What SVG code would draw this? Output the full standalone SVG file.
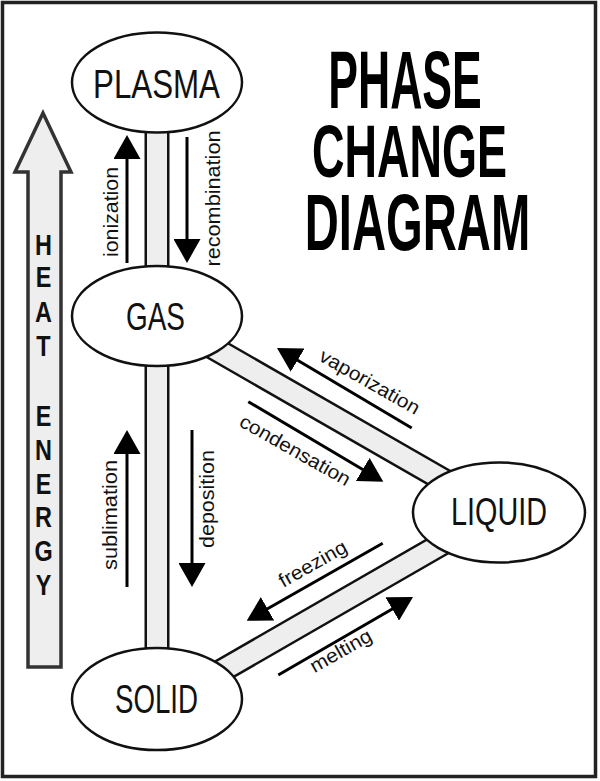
<svg xmlns="http://www.w3.org/2000/svg" width="600" height="781" viewBox="0 0 600 781">
<style>
.bar-o{stroke:#111;stroke-width:25;fill:none}
.bar-i{stroke:#eeeeee;stroke-width:20;fill:none}
.node{fill:#fff;stroke:#111;stroke-width:2.5}
.lbl{font-family:"Liberation Sans",Arial,sans-serif;font-size:40px;fill:#111;text-anchor:middle}
.arr{stroke:#000;stroke-width:3;fill:none;marker-end:url(#ah)}
.cap{font-family:"Liberation Sans",Arial,sans-serif;font-size:19.5px;fill:#111;text-anchor:middle}
.title{font-family:"Liberation Sans",Arial,sans-serif;font-weight:bold;fill:#000;text-anchor:middle}
.heat{font-family:"Liberation Sans",Arial,sans-serif;font-weight:bold;font-size:30px;fill:#111;text-anchor:middle}
</style>
<defs>
<marker id="ah" viewBox="0 0 24 27" refX="2" refY="13.5" markerWidth="24" markerHeight="27" markerUnits="userSpaceOnUse" orient="auto">
<path d="M0,0 L24,13.5 L0,27 Z" fill="#000"/>
</marker>
</defs>
<rect x="2.5" y="2.5" width="593" height="774" fill="#fff" stroke="#222" stroke-width="3.5"/>

<g id="connectors">
<line class="bar-o" x1="157" y1="82" x2="157" y2="316"/>
<line class="bar-i" x1="157" y1="82" x2="157" y2="316"/>
<line class="bar-o" x1="157" y1="316" x2="157" y2="699"/>
<line class="bar-i" x1="157" y1="316" x2="157" y2="699"/>
<line class="bar-o" x1="157" y1="315.5" x2="499" y2="512"/>
<line class="bar-i" x1="157" y1="315.5" x2="499" y2="512"/>
<line class="bar-o" x1="157" y1="708" x2="499" y2="511"/>
<line class="bar-i" x1="157" y1="708" x2="499" y2="511"/>

<path class="arr" d="M127,263 L127,157"/>
<path class="arr" d="M187,137 L187,241"/>
<path class="arr" d="M127,587 L127,452"/>
<path class="arr" d="M192,430 L192,565"/>
<path class="arr" d="M411.7,428 L295.9,359.2"/>
<path class="arr" d="M248.3,401.7 L364.4,470.5"/>
<path class="arr" d="M382.7,543.3 L265.8,609.8"/>
<path class="arr" d="M278.3,675 L394,608"/>

<text class="cap" transform="translate(118,212) rotate(-90)" textLength="90" lengthAdjust="spacingAndGlyphs">ionization</text>
<text class="cap" transform="translate(220,198.5) rotate(-90)" textLength="136" lengthAdjust="spacingAndGlyphs">recombination</text>
<text class="cap" transform="translate(117,515) rotate(-90)" textLength="110" lengthAdjust="spacingAndGlyphs">sublimation</text>
<text class="cap" transform="translate(214,499) rotate(-90)" textLength="98" lengthAdjust="spacingAndGlyphs">deposition</text>
<text class="cap" transform="translate(366.5,387.5) rotate(29.5)" textLength="112" lengthAdjust="spacingAndGlyphs">vaporization</text>
<text class="cap" transform="translate(292,456) rotate(29.5)" textLength="124" lengthAdjust="spacingAndGlyphs">condensation</text>
<text class="cap" transform="translate(316,569.5) rotate(-29.5)" textLength="75" lengthAdjust="spacingAndGlyphs">freezing</text>
<text class="cap" transform="translate(344,656.5) rotate(-29.5)" textLength="68" lengthAdjust="spacingAndGlyphs">melting</text>
</g>

<g id="plasma">
<ellipse class="node" cx="157" cy="82.5" rx="85" ry="50"/>
<text class="lbl" x="156.5" y="98" textLength="127" lengthAdjust="spacingAndGlyphs">PLASMA</text>
</g>
<g id="gas">
<ellipse class="node" cx="157" cy="316" rx="85" ry="50"/>
<text class="lbl" x="155.5" y="330" style="font-size:38px" textLength="59" lengthAdjust="spacingAndGlyphs">GAS</text>
</g>
<g id="liquid">
<ellipse class="node" cx="499" cy="512.5" rx="86" ry="50"/>
<text class="lbl" x="499" y="525" style="font-size:39px" textLength="96" lengthAdjust="spacingAndGlyphs">LIQUID</text>
</g>
<g id="solid">
<ellipse class="node" cx="157" cy="699" rx="85" ry="51"/>
<text class="lbl" x="156.5" y="713" style="font-size:41px" textLength="83" lengthAdjust="spacingAndGlyphs">SOLID</text>
</g>

<g id="heat-energy">
<polygon points="43,113 15,172 28,172 28,667 61,667 61,172 71,172" fill="#eeeeee" stroke="#333" stroke-width="3.5" stroke-linejoin="miter"/>
<text class="heat" transform="translate(43.5,0) scale(0.78,1)"><tspan x="0" y="255">H</tspan><tspan x="0" y="287">E</tspan><tspan x="0" y="322">A</tspan><tspan x="0" y="356">T</tspan><tspan x="0" y="391">&#160;</tspan><tspan x="0" y="426">E</tspan><tspan x="0" y="460">N</tspan><tspan x="0" y="494">E</tspan><tspan x="0" y="527">R</tspan><tspan x="0" y="561">G</tspan><tspan x="0" y="595">Y</tspan></text>
</g>

<g id="title">
<text class="title" transform="translate(405,108) scale(0.55,1)" style="font-size:81px">PHASE</text>
<text class="title" transform="translate(409.5,177) scale(0.6,1)" style="font-size:75px">CHANGE</text>
<text class="title" transform="translate(417.5,250) scale(0.59,1)" style="font-size:80px">DIAGRAM</text>
</g>
</svg>
